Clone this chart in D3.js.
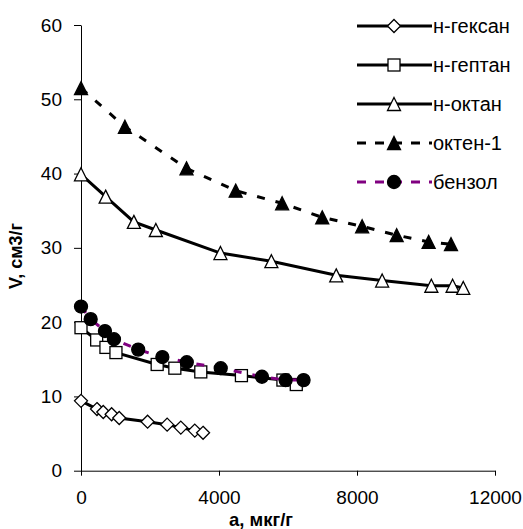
<!DOCTYPE html>
<html>
<head>
<meta charset="utf-8">
<script src="https://cdn.jsdelivr.net/npm/d3@7/dist/d3.min.js"></script>
<style>
  body { margin: 0; background: #fff; }
  text { font-family: "Liberation Sans", Arial, sans-serif; fill: #000; }
</style>
</head>
<body>
<div id="chart"></div>
<script>
// series data (a, мкг/г ; V, см3/г)
var hexaneA  = [0, 463, 645, 888, 1108, 1930, 2497, 2893, 3298, 3538];
var hexaneV  = [9.4, 8.3, 7.9, 7.6, 7.1, 6.6, 6.2, 5.8, 5.4, 5.1];
var heptaneA = [0, 454, 723, 1013, 2208, 2720, 3472, 4650, 5853, 6240];
var heptaneV = [19.25, 17.6, 16.6, 15.9, 14.3, 13.8, 13.3, 12.8, 12.2, 11.6];
var octaneA  = [0, 715, 1533, 2170, 4042, 5518, 7398, 8729, 10155, 10771, 11080];
var octaneV  = [39.9, 36.9, 33.5, 32.4, 29.3, 28.2, 26.3, 25.6, 24.9, 24.9, 24.6];
var octeneA  = [0, 1273, 3058, 4484, 5830, 6992, 8149, 9150, 10076, 10724];
var octeneV  = [51.5, 46.3, 40.7, 37.7, 36.0, 34.1, 32.9, 31.7, 30.8, 30.5];
var benzeneA = [0, 280, 694, 955, 1658, 2358, 3066, 4050, 5245, 5931, 6451];
var benzeneV = [22.1, 20.4, 18.8, 17.7, 16.3, 15.3, 14.6, 13.8, 12.65, 12.2, 12.2];

var seriesNames = ['н-гексан', 'н-гептан', 'н-октан', 'октен-1', 'бензол'];
var xTicks = [0, 4000, 8000, 12000];
var yTicks = [0, 10, 20, 30, 40, 50, 60];

var W = 523, H = 529;
var plotL = 81, plotR = 495, plotT = 25, plotB = 470.7;

var svg = d3.select('#chart').append('svg:svg')
    .attr('width', W).attr('height', H);

var x = d3.scaleLinear().domain([0, 12000]).range([plotL, plotR]);
var y = d3.scaleLinear().domain([0, 60]).range([plotB, plotT]);

// axes
var xAxis = svg.append('g').attr('transform', 'translate(0,' + plotB + ')')
    .call(d3.axisBottom(x).tickValues(xTicks).tickFormat(d3.format('d'))
      .tickSize(5).tickSizeOuter(0).tickPadding(15));
var yAxis = svg.append('g').attr('transform', 'translate(' + plotL + ',0)')
    .call(d3.axisLeft(y).tickValues(yTicks).tickFormat(d3.format('d'))
      .tickSize(7).tickSizeOuter(0).tickPadding(12));
[xAxis, yAxis].forEach(function(a) {
  a.select('.domain').attr('stroke', '#000').attr('stroke-width', 1);
  a.selectAll('.tick line').attr('stroke', '#000').attr('stroke-width', 1);
  a.selectAll('.tick text').attr('font-size', 19).attr('font-family', '"Liberation Sans", Arial, sans-serif');
});

// axis titles
svg.append('svg:text').attr('x', 261).attr('y', 526)
    .attr('text-anchor', 'middle').attr('font-size', 18.5).attr('font-weight', 'bold')
    .text('а, мкг/г');
svg.append('svg:text').attr('transform', 'translate(22,256) rotate(-90)')
    .attr('text-anchor', 'middle').attr('font-size', 18).attr('font-weight', 'bold')
    .text('V, см3/г');

// marker shapes
var markers = {
  diamond: function(g, s) {
    return g.append('path').attr('d', 'M0,' + (-s) + 'L' + s + ',0L0,' + s + 'L' + (-s) + ',0Z');
  },
  square: function(g, s) {
    return g.append('rect').attr('x', -s).attr('y', -s).attr('width', 2 * s).attr('height', 2 * s);
  },
  triangle: function(g, s) {
    return g.append('path').attr('d', 'M0,' + (-s) + 'L' + s + ',' + s + 'L' + (-s) + ',' + s + 'Z');
  },
  circle: function(g, s) {
    return g.append('circle').attr('r', s);
  }
};

var styles = [
  { a: hexaneA,  v: hexaneV,  shape: 'diamond',  size: 6.5, fill: '#fff', line: '#000', dash: null },
  { a: heptaneA, v: heptaneV, shape: 'square',   size: 6,   fill: '#fff', line: '#000', dash: null },
  { a: octaneA,  v: octaneV,  shape: 'triangle', size: 6.5, fill: '#fff', line: '#000', dash: null },
  { a: octeneA,  v: octeneV,  shape: 'triangle', size: 6.5, fill: '#000', line: '#000', dash: '8,11' },
  { a: benzeneA, v: benzeneV, shape: 'circle',   size: 6.5, fill: '#000', line: '#800080', dash: '8,11' }
];

var lineGen = d3.line().x(function(d) { return x(d[0]); }).y(function(d) { return y(d[1]); });

var drawMarker = function(g, st, cx, cy) {
  var m = g.append('g').attr('transform', 'translate(' + cx + ',' + cy + ')');
  markers[st.shape](m, st.size)
      .attr('fill', st.fill).attr('stroke', '#000').attr('stroke-width', 1.3);
};

styles.forEach(function(st, i) {
  var pts = st.a.map(function(a, k) { return [a, st.v[k]]; });
  var g = svg.append('g');
  g.append('path').datum(pts).attr('d', lineGen)
      .attr('fill', 'none').attr('stroke', st.line).attr('stroke-width', 3)
      .attr('stroke-dasharray', st.dash);
  pts.forEach(function(p) { drawMarker(g, st, x(p[0]), y(p[1])); });

  // legend row
  var ly = 26 + i * 39;
  var lg = svg.append('g');
  lg.append('line').attr('x1', 357).attr('x2', 432).attr('y1', ly).attr('y2', ly)
      .attr('stroke', st.line).attr('stroke-width', 3)
      .attr('stroke-dasharray', st.dash ? '9,9' : null);
  drawMarker(lg, st, 394, ly);
  lg.append('svg:text').attr('x', 433).attr('y', ly).attr('dy', '0.35em')
      .attr('font-size', 20).text(seriesNames[i]);
});
</script>
</body>
</html>
